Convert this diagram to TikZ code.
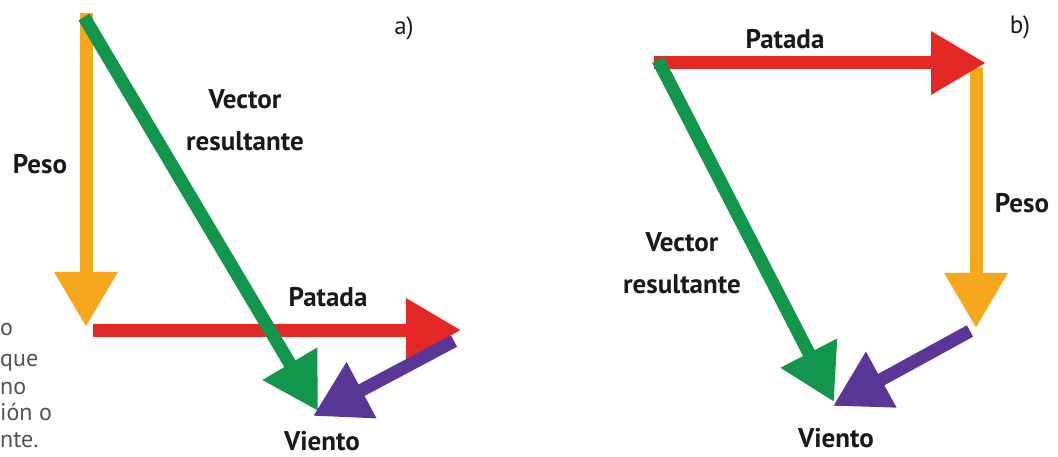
\documentclass[tikz,border=0pt]{standalone}
\usepackage{fontspec}
\setmainfont{PT Sans}
\usepackage{xcolor}
\usetikzlibrary{arrows.meta,positioning}
\definecolor{ink}{HTML}{1A1A1A}
\definecolor{peso}{HTML}{F5A81E}
\definecolor{patada}{HTML}{E42826}
\definecolor{result}{HTML}{12964B}
\definecolor{viento}{HTML}{5A3796}

\begin{document}
\begin{tikzpicture}[x=1pt, y=-1pt, every node/.style={font=\bfseries\fontsize{27}{42}\selectfont, text=ink, inner sep=0pt, align=center}, vec/.style={line width=13pt, -{Triangle[length=55pt,width=60pt]}}, tag/.style={font=\fontsize{25}{27}\selectfont}, note/.style={font=\fontsize{24}{26}\selectfont, text=ink!75, anchor=base west}]
\fill[white] (0,0) rectangle (1058,457);
\useasboundingbox (0,0) rectangle (1058,457);
% panel a
\coordinate (a0) at (86,13); \coordinate (a1) at (86,327);
\coordinate (a2) at (93,330); \coordinate (a3) at (461,330);
\coordinate (a4) at (454,341); \coordinate (a5) at (313,416);
\coordinate (g0) at (84,17); \coordinate (g1) at (318,411);
\draw[vec,draw=peso,fill=peso] (a0) -- (a1);
\draw[vec,draw=patada,fill=patada] (a2) -- (a3);
\draw[vec,draw=result,fill=result] (g0) -- (g1);
\draw[vec,draw=viento,fill=viento] (a4) -- (a5);
\node[tag] (tagA) at (404,28) {a)};
\node (pesoA) at (40,164) {Peso};
\node (resA) at (245,120) {Vector\\resultante};
\node (patA) at (328,297) {Patada};
\node (vienA) at (322,441) {Viento};
% panel b
\coordinate (b0) at (654,63); \coordinate (b1) at (986,63);
\coordinate (b2) at (976,68); \coordinate (b3) at (976,328);
\coordinate (b4) at (970,331); \coordinate (b5) at (833,406);
\coordinate (h0) at (658,60); \coordinate (h1) at (834,402);
\draw[vec,draw=peso,fill=peso] (b2) -- (b3);
\draw[vec,draw=patada,fill=patada] (b0) -- (b1);
\draw[vec,draw=result,fill=result] (h0) -- (h1);
\draw[vec,draw=viento,fill=viento] (b4) -- (b5);
\node[tag] (tagB) at (1020,27) {b)};
\node (patB) at (785,39) {Patada};
\node (pesoB) at (1022,203) {Peso};
\node (resB) at (682,263) {Vector\\resultante};
\node (vienB) at (836,438) {Viento};
% cut-off side text
\node[note] (n1) at (0,335) {o};
\node[note] (n2) at (0,366) {que};
\node[note] (n3) at (0,394) {no};
\node[note] (n4) at (0,420) {ión o};
\node[note] (n5) at (0,447) {nte.};
\end{tikzpicture}
\end{document}
